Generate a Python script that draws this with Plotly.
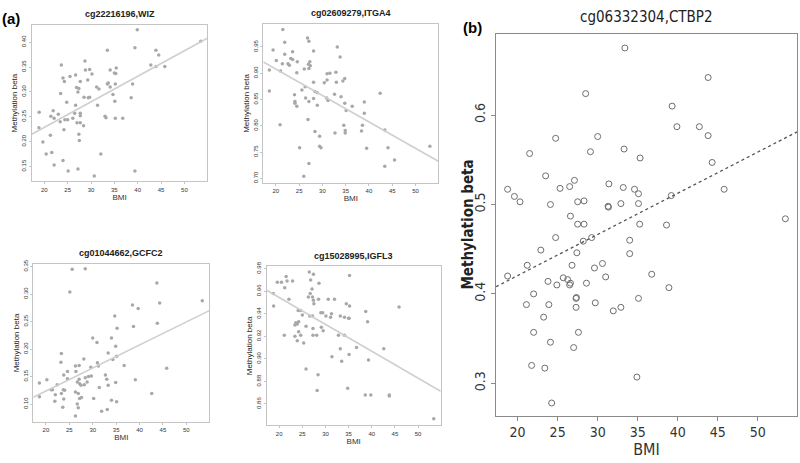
import numpy as np
import plotly.graph_objects as go

# ---------------- data ----------------
wiz_bmi = [39.9,53.5,39.4,33.5,43.9,44.5,23.65,28.7,42.8,45.8,43.9,35.4,28.8,29.7,34.1,35.0,35.3,30.2,25.5,26.7,
           24.0,24.3,27.7,29.3,33.5,33.7,35.2,38.9,26.9,27.4,31.2,31.7,34.1,27.2,23.5,28.5,29.4,29.7,34.7,38.6,
           35.1,24.8,26.7,31.4,18.9,21.9,23.0,26.5,27.7,21.4,22.1,27.7,33.0,33.2,35.2,36.8,24.4,25.0,23.4,26.1,
           27.0,27.7,28.4,18.85,24.2,27.4,21.3,27.5,19.7,20.4,21.6,32.1,24.0,22.1,27.2,25.1,39.4,30.7]
wiz_beta = [0.425,0.402,0.389,0.384,0.384,0.374,0.354,0.362,0.354,0.351,0.351,0.348,0.344,0.345,0.344,0.338,0.337,0.336,0.331,0.334,
            0.328,0.321,0.321,0.324,0.316,0.318,0.316,0.316,0.309,0.307,0.310,0.306,0.310,0.300,0.297,0.289,0.288,0.289,0.295,0.288,
            0.281,0.279,0.273,0.273,0.259,0.262,0.255,0.257,0.257,0.251,0.247,0.252,0.251,0.248,0.247,0.247,0.244,0.244,0.240,0.247,
            0.238,0.238,0.232,0.228,0.224,0.215,0.213,0.202,0.199,0.175,0.178,0.175,0.162,0.153,0.145,0.141,0.141,0.131]

itga4_bmi = [21.5,26.8,27.1,21.9,19.4,23.6,28.1,33.2,21.9,33.8,20.1,23.2,23.6,21.4,22.6,22.9,24.6,27.0,27.3,27.4,
             26.1,27.1,18.6,21.0,24.5,31.0,31.6,32.9,34.8,34.4,31.0,30.4,28.1,33.0,26.3,25.6,18.6,28.4,28.9,32.6,
             42.4,24.0,34.0,30.9,31.2,26.4,28.1,24.1,24.1,27.1,39.0,34.8,24.5,28.9,36.4,35.1,39.0,26.9,20.9,34.6,
             38.6,43.4,34.9,34.9,28.4,32.7,38.4,29.4,25.1,29.4,29.7,39.5,44.1,53.1,45.5,27.1,43.4,26.0]
itga4_beta = [0.983,0.967,0.961,0.959,0.944,0.941,0.942,0.950,0.936,0.931,0.924,0.928,0.926,0.918,0.918,0.915,0.922,0.917,0.922,0.914,
              0.908,0.909,0.906,0.904,0.901,0.899,0.900,0.902,0.890,0.885,0.887,0.882,0.883,0.883,0.874,0.868,0.866,0.865,0.863,0.860,
              0.862,0.859,0.855,0.853,0.848,0.853,0.852,0.846,0.843,0.846,0.845,0.843,0.837,0.839,0.837,0.829,0.824,0.812,0.802,0.801,
              0.801,0.792,0.791,0.786,0.789,0.786,0.790,0.780,0.758,0.761,0.758,0.757,0.758,0.761,0.735,0.728,0.723,0.704]

gcfc2_bmi = [25.6,28.4,25.1,43.7,53.4,44.3,38.5,39.7,34.7,43.8,38.7,35.2,30.0,34.0,30.9,34.9,33.3,23.3,28.1,34.3,
             35.1,23.2,31.0,36.7,27.1,26.3,31.2,45.8,29.6,24.6,26.4,23.8,32.7,29.7,29.1,20.2,24.6,27.1,26.7,33.0,
             34.9,28.4,39.1,18.6,27.2,28.2,28.8,27.5,31.4,33.3,22.4,21.1,21.4,23.7,23.3,24.0,26.3,26.9,27.2,27.6,
             22.0,18.6,23.8,30.2,42.6,34.0,35.1,21.9,26.7,26.9,23.6,31.9,33.1,26.3]
gcfc2_beta = [0.345,0.346,0.304,0.320,0.288,0.284,0.280,0.274,0.260,0.247,0.241,0.238,0.220,0.220,0.212,0.205,0.193,0.192,0.182,0.181,
              0.187,0.176,0.175,0.170,0.170,0.169,0.169,0.165,0.167,0.159,0.159,0.153,0.153,0.151,0.150,0.144,0.146,0.145,0.140,0.145,
              0.139,0.148,0.144,0.138,0.137,0.135,0.140,0.134,0.130,0.134,0.135,0.126,0.126,0.126,0.119,0.125,0.122,0.119,0.110,0.112,
              0.117,0.113,0.109,0.110,0.119,0.107,0.104,0.105,0.100,0.093,0.094,0.087,0.090,0.078]

igfl3_bmi = [26.5,27.4,35.2,21.5,19.6,20.5,21.7,22.9,26.8,28.6,21.2,27.1,26.7,18.7,26.3,27.2,27.4,27.5,22.1,28.5,
             30.6,31.95,34.5,35.2,45.9,18.8,24.1,24.65,38.7,29.0,29.4,31.3,25.0,26.6,27.2,30.1,31.1,33.2,34.1,35.0,
             35.1,39.1,24.2,23.6,23.9,23.4,25.8,27.3,29.1,29.5,24.2,21.1,23.4,24.65,27.3,28.1,32.8,34.1,23.9,25.3,
             36.7,33.2,42.6,35.1,31.4,33.5,39.3,25.8,28.4,34.8,28.2,38.6,39.8,43.8,43.8,53.4]
igfl3_beta = [0.977,0.975,0.974,0.973,0.968,0.968,0.969,0.969,0.970,0.967,0.963,0.962,0.958,0.958,0.955,0.955,0.952,0.949,0.953,0.953,
              0.953,0.953,0.949,0.947,0.946,0.947,0.943,0.943,0.942,0.941,0.941,0.940,0.939,0.938,0.938,0.938,0.937,0.938,0.937,0.936,
              0.936,0.933,0.933,0.932,0.931,0.930,0.929,0.927,0.928,0.925,0.924,0.921,0.920,0.921,0.921,0.921,0.921,0.921,0.916,0.914,
              0.910,0.909,0.909,0.904,0.902,0.898,0.899,0.891,0.886,0.874,0.872,0.868,0.868,0.868,0.867,0.847]

ctbp2_bmi = [33.4,43.8,28.5,39.3,39.9,42.7,43.8,24.75,30.0,21.5,29.1,33.3,35.3,44.3,23.5,27.1,25.3,26.5,31.4,33.2,
             34.6,35.1,39.2,45.8,18.75,19.6,20.3,24.1,27.5,28.3,31.3,31.35,32.9,35.1,26.6,27.5,28.3,35.25,38.6,53.45,
             24.75,29.25,28.2,34.0,22.9,27.4,34.0,21.2,26.8,30.6,29.6,18.75,36.75,25.7,26.25,23.8,26.6,24.9,26.5,28.6,
             31.0,38.9,22.0,27.3,27.35,35.1,21.1,23.9,29.7,27.3,32.9,31.95,23.25,22.0,27.6,24.1,27.0,21.75,23.4,34.9,24.25]
ctbp2_beta = [0.675,0.642,0.624,0.610,0.587,0.587,0.577,0.574,0.576,0.557,0.559,0.562,0.552,0.547,0.532,0.527,0.518,0.520,0.523,0.519,
              0.517,0.512,0.510,0.517,0.517,0.509,0.503,0.500,0.503,0.504,0.498,0.497,0.501,0.501,0.487,0.478,0.478,0.478,0.477,0.484,
              0.463,0.463,0.459,0.460,0.449,0.446,0.445,0.432,0.432,0.434,0.429,0.420,0.422,0.418,0.416,0.414,0.412,0.410,0.410,0.412,
              0.419,0.407,0.400,0.395,0.396,0.395,0.388,0.388,0.390,0.385,0.385,0.381,0.374,0.357,0.357,0.346,0.340,0.320,0.317,0.307,0.278]

titles = ["cg22216196,WIZ", "cg02609279,ITGA4", "cg01044662,GCFC2", "cg15028995,IGFL3", "cg06332304,CTBP2"]
panel_labels = ["(a)", "(b)"]
bmi_ticks = [20, 25, 30, 35, 40, 45, 50]
y_ticks = [
    [0.15, 0.20, 0.25, 0.30, 0.35, 0.40],
    [0.70, 0.75, 0.80, 0.85, 0.90, 0.95],
    [0.10, 0.15, 0.20, 0.25, 0.30, 0.35],
    [0.86, 0.88, 0.90, 0.92, 0.94, 0.96, 0.98],
    [0.3, 0.4, 0.5, 0.6],
]

# ---------------- layout geometry ----------------
W, H = 800, 463
def xd(l, r): return [l / W, r / W]
def yd(t, b): return [1 - b / H, 1 - t / H]

panels = [
    dict(x=wiz_bmi, y=wiz_beta, xdom=xd(31.7, 207.3), ydom=yd(20, 178.3), yr=[0.120, 0.435], fmt=".2f"),
    dict(x=itga4_bmi, y=itga4_beta, xdom=xd(263.3, 438.3), ydom=yd(19, 180), yr=[0.691, 0.994], fmt=".2f"),
    dict(x=gcfc2_bmi, y=gcfc2_beta, xdom=xd(33.3, 209.3), ydom=yd(261.7, 421.7), yr=[0.067, 0.355], fmt=".2f"),
    dict(x=igfl3_bmi, y=igfl3_beta, xdom=xd(266.7, 440.7), ydom=yd(264.3, 425), yr=[0.841, 0.982], fmt=".2f"),
    dict(x=ctbp2_bmi, y=ctbp2_beta, xdom=xd(496, 797), ydom=yd(29, 415), yr=[0.264, 0.691], fmt=".1f"),
]
XR = [17.3, 54.9]

fig = go.Figure()
layout = dict(width=W, height=H, margin=dict(l=0, r=0, t=0, b=0, pad=0), autosize=False,
              paper_bgcolor="white", plot_bgcolor="white", showlegend=False,
              font=dict(family="Liberation Sans, Arial, sans-serif", color="#333"))
annotations = []

for i, p in enumerate(panels):
    n = i + 1
    xa = "x" if n == 1 else f"x{n}"
    ya = "y" if n == 1 else f"y{n}"
    big = (n == 5)
    if big:
        marker = dict(symbol="circle-open", size=6, color="#6e6e6e", line=dict(width=1, color="#6e6e6e"))
    else:
        marker = dict(symbol="circle", size=3.5, color="#a8a8a8")
    fig.add_trace(go.Scatter(x=p["x"], y=p["y"], mode="markers", marker=marker,
                             xaxis=xa, yaxis=ya, hoverinfo="skip"))
    # fitted regression line
    slope, inter = np.polyfit(np.array(p["x"]), np.array(p["y"]), 1)
    lx = np.array(XR)
    fig.add_trace(go.Scatter(x=lx, y=inter + slope * lx, mode="lines",
                             line=dict(color="#555" if big else "#cfcfcf",
                                       width=1.3 if big else 1.6,
                                       dash="dot" if big else "solid"),
                             xaxis=xa, yaxis=ya, hoverinfo="skip"))

    fs_tick = 14 if big else 6
    fam = "Liberation Sans Narrow, DejaVu Sans Condensed, Arial Narrow, sans-serif" if big else "Liberation Sans, Arial, sans-serif"
    box_col = "#8a8a8a" if big else "#c4c4c4"
    xkey = "xaxis" if n == 1 else f"xaxis{n}"
    ykey = "yaxis" if n == 1 else f"yaxis{n}"
    layout[xkey] = dict(domain=p["xdom"], range=XR, anchor=ya, tickvals=bmi_ticks,
                        showgrid=False, zeroline=False, showline=True, mirror=True,
                        linecolor=box_col, linewidth=1, ticks="outside",
                        ticklen=4 if big else 2, tickcolor=box_col,
                        tickfont=dict(size=fs_tick, family=fam, color="#333"),
                        title=dict(text="BMI", standoff=4 if big else 1,
                                   font=dict(size=16 if big else 8, family=fam, color="#333")))
    ytitle = dict(text="Methylation beta", standoff=2,
                  font=dict(size=8, family=fam, color="#222")) if not big else dict(text="")
    layout[ykey] = dict(domain=p["ydom"], range=p["yr"], anchor=xa, tickvals=y_ticks[i],
                        tickformat=p["fmt"], tickangle=-90,
                        showgrid=False, zeroline=False, showline=True, mirror=True,
                        linecolor=box_col, linewidth=1, ticks="outside",
                        ticklen=4 if big else 2, tickcolor=box_col,
                        tickfont=dict(size=fs_tick, family=fam, color="#333"),
                        title=ytitle)
    if big:
        annotations.append(dict(text="<b>Methylation beta</b>", xref="paper", yref="paper",
                                x=468 / W, y=(p["ydom"][0] + p["ydom"][1]) / 2,
                                xanchor="center", yanchor="middle", textangle=-90, showarrow=False,
                                font=dict(size=15, family=fam, color="#222")))
    xc = (p["xdom"][0] + p["xdom"][1]) / 2
    annotations.append(dict(text=titles[i] if big else f"<b>{titles[i]}</b>", xref="paper", yref="paper",
                            x=xc, y=p["ydom"][1] + (0.012 if big else 0.008), xanchor="center", yanchor="bottom",
                            showarrow=False,
                            font=dict(size=15 if big else 9, family=fam, color="#222")))

annotations.append(dict(text="<b>(a)</b>", xref="paper", yref="paper", x=0.0, y=1 - 3 / H,
                        xanchor="left", yanchor="top", showarrow=False,
                        font=dict(size=15, family="Liberation Sans, Arial, sans-serif", color="#000")))
annotations.append(dict(text="<b>(b)</b>", xref="paper", yref="paper", x=461 / W, y=1 - 12 / H,
                        xanchor="left", yanchor="top", showarrow=False,
                        font=dict(size=15, family="Liberation Sans, Arial, sans-serif", color="#000")))
layout["annotations"] = annotations
fig.update_layout(**layout)
fig.write_html("out.html", config={"displayModeBar": False},
               post_script="document.body.style.margin='0';document.body.style.overflow='hidden';")
